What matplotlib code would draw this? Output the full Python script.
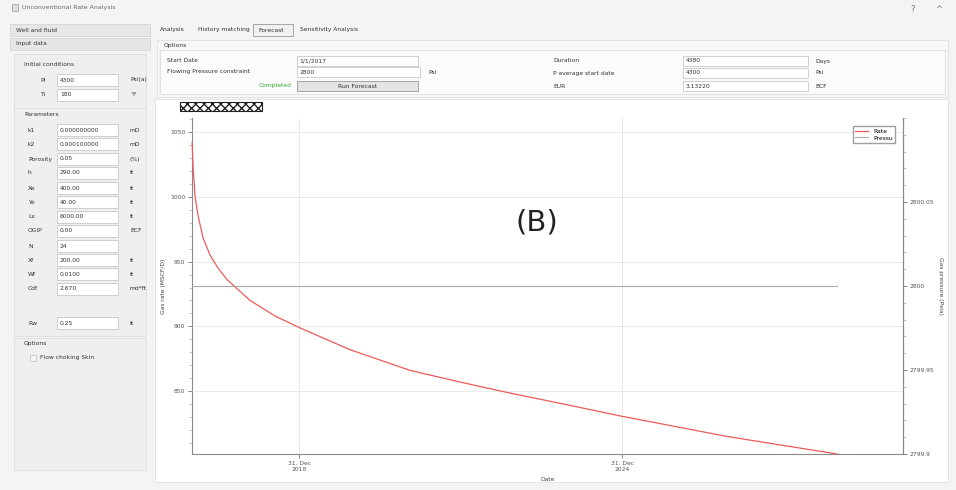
import datetime as dt
import matplotlib
matplotlib.use("Agg")
import matplotlib.pyplot as plt
import matplotlib.dates as mdates
from matplotlib.patches import Rectangle
from matplotlib.ticker import FixedLocator, MultipleLocator, FuncFormatter

# Forecast gas rate
rate_dates = ["2017-01-01", "2017-01-08", "2017-01-21", "2017-02-11", "2017-03-17",
              "2017-05-03", "2017-06-26", "2017-08-27", "2018-01-30", "2018-07-18",
              "2018-12-31", "2019-12-09", "2021-01-20", "2021-12-25", "2022-11-09",
              "2024-01-31", "2024-12-31", "2026-12-11", "2028-12-29"]
rate_values = [1042, 1022, 1000, 985, 968,
               955, 945, 936, 920, 908,
               899, 882, 866, 857, 849,
               838.5, 830.5, 815, 801.4]

# Flowing pressure constraint (flat)
pressure_dates = ["2017-01-01", "2028-12-29"]
pressure_values = [2800, 2800]

rate_ticks = [850, 900, 950, 1000, 1050]
pressure_ticks = [2799.9, 2799.95, 2800, 2800.05]
date_ticks = ["2018-12-31", "2024-12-31"]

W, H = 956, 490
FS = 4.3


def fx(x):
    return x / W


def fy(y):
    return 1 - y / H


def box(fig, x0, y0, x1, y1, fc="white", ec="#c8c8c8", lw=0.6, zorder=-5, **kw):
    fig.patches.append(Rectangle((fx(x0), fy(y1)), fx(x1) - fx(x0), fy(y0) - fy(y1),
                                 transform=fig.transFigure, facecolor=fc,
                                 edgecolor=ec, linewidth=lw, zorder=zorder, **kw))


def label(fig, x, y, s, size=FS, **kw):
    fig.text(fx(x), fy(y), s, fontsize=size, va="center", color=kw.pop("color", "#333333"), **kw)


def to_dates(lst):
    return [dt.datetime.strptime(d, "%Y-%m-%d") for d in lst]


fig = plt.figure(figsize=(W / 100, H / 100), dpi=100, facecolor="#f4f4f4")

# ---- window chrome ----
label(fig, 22, 8, "Unconventional Rate Analysis", size=4.5, color="#666666")
box(fig, 12, 4, 18, 11, fc="#dddddd", ec="#aaaaaa")
label(fig, 910, 10, "?", size=6, color="#777777")
label(fig, 935, 10, "^", size=6, color="#777777")

# ---- left input panel ----
box(fig, 10, 24, 150, 36, fc="#e6e6e6", ec="#d6d6d6")
label(fig, 16, 30, "Well and fluid")
box(fig, 10, 38, 150, 50, fc="#e6e6e6", ec="#d6d6d6")
label(fig, 16, 44, "Input data")
box(fig, 14, 54, 146, 112, fc="#efefef", ec="#dedede")
label(fig, 24, 64, "Initial conditions")
box(fig, 14, 108, 146, 336, fc="#efefef", ec="#dedede")
label(fig, 24, 114, "Parameters")

rows = [(80, "Pi", "4300", "Psi(a)"), (95, "Ti", "180", "\u00b0F"),
        (130, "k1", "0.000000000", "mD"), (144, "k2", "0.000100000", "mD"),
        (159, "Porosity", "0.05", "(%)"), (173, "h", "290.00", "ft"),
        (188, "Xe", "400.00", "ft"), (202, "Ye", "40.00", "ft"),
        (217, "Lx", "6000.00", "ft"), (231, "OGIP", "0.00", "BCF"),
        (246, "N", "24", ""), (260, "Xf", "200.00", "ft"),
        (274, "Wf", "0.0100", "ft"), (289, "Cdf", "2.670", "md*ft"),
        (323, "Rw", "0.25", "ft")]
for y, name, val, unit in rows:
    x_lab = 40 if name in ("Pi", "Ti") else 28
    label(fig, x_lab, y, name)
    box(fig, 57, y - 6, 118, y + 6, zorder=-4)
    label(fig, 60, y, val)
    label(fig, 130, y, unit)
box(fig, 14, 338, 146, 470, fc="#efefef", ec="#dedede")
label(fig, 24, 343, "Options")
box(fig, 30, 355, 36, 361, fc="#f6f6f6", ec="#cccccc", zorder=-4)
label(fig, 40, 358, "Flow choking Skin")

# ---- tabs and options ----
label(fig, 160, 30, "Analysis")
label(fig, 198, 30, "History matching")
box(fig, 253, 24, 293, 36, fc="#f0f0f0", ec="#999999")
label(fig, 258, 30, "Forecast")
label(fig, 300, 30, "Sensitivity Analysis")
box(fig, 157, 40, 948, 97, fc="#f7f7f7", ec="#e0e0e0")
label(fig, 164, 45, "Options")
box(fig, 160, 50, 945, 94, fc="#fbfbfb", ec="#dcdcdc", zorder=-4)
label(fig, 167, 61, "Start Date")
box(fig, 297, 56, 418, 66, zorder=-3)
label(fig, 299, 61, "1/1/2017")
label(fig, 167, 72, "Flowing Pressure constraint")
box(fig, 297, 67, 420, 77, zorder=-3)
label(fig, 299, 72, "2800")
label(fig, 428, 72, "Psi")
label(fig, 292, 86, "Completed", color="#33aa33", ha="right")
box(fig, 297, 81, 418, 91, fc="#e4e4e4", ec="#999999", zorder=-3)
label(fig, 357, 86, "Run Forecast", ha="center")
label(fig, 553, 61, "Duration")
box(fig, 683, 56, 808, 66, zorder=-3)
label(fig, 686, 61, "4380")
label(fig, 815, 61, "Days")
label(fig, 553, 73, "P average start date")
box(fig, 683, 68, 808, 78, zorder=-3)
label(fig, 686, 73, "4300")
label(fig, 815, 73, "Psi")
label(fig, 553, 86, "EUR")
box(fig, 683, 81, 808, 91, zorder=-3)
label(fig, 686, 86, "3.13220")
label(fig, 815, 86, "BCF")

# ---- chart panel ----
box(fig, 155, 99, 948, 482, fc="white", ec="#e2e2e2")
box(fig, 180, 102, 262, 111, fc="white", ec="#222222", lw=0.8, hatch="xxxx", zorder=-4)

ax = fig.add_axes([fx(192), fy(454), fx(903) - fx(192), fy(118) - fy(454)])
ax.set_facecolor("none")
ax2 = ax.twinx()

ax.plot(to_dates(rate_dates), rate_values, color="#ee5a5a", lw=0.9, label="Rate",
        zorder=3, clip_on=False)
ax2.plot(to_dates(pressure_dates), pressure_values, color="#a8a8a8", lw=0.8, label="Pressu")

ax.set_xlim(dt.datetime(2016, 12, 31), dt.datetime(2030, 3, 22))
ax.set_ylim(801.4, 1061)
ax2.set_ylim(2799.9, 2800.1)

ax.xaxis.set_major_locator(FixedLocator(mdates.date2num(to_dates(date_ticks))))
ax.xaxis.set_major_formatter(mdates.DateFormatter("%d. %b\n%Y"))
ax.yaxis.set_major_locator(FixedLocator(rate_ticks))
ax.yaxis.set_minor_locator(MultipleLocator(10))
ax2.yaxis.set_major_locator(FixedLocator(pressure_ticks))
ax2.yaxis.set_minor_locator(MultipleLocator(0.01))
ax2.yaxis.set_major_formatter(FuncFormatter(lambda v, p: f"{v:g}"))

ax.grid(True, which="major", color="#e6e6e6", lw=0.6)
for a in (ax, ax2):
    a.spines["top"].set_visible(False)
    for side in ("left", "right", "bottom"):
        a.spines[side].set_color("#8a8a8a")
        a.spines[side].set_linewidth(0.8)
    a.tick_params(labelsize=FS, colors="#555555", length=3, width=0.5, pad=2)
    a.tick_params(which="minor", length=2, width=0.4, colors="#999999")
ax2.spines["left"].set_visible(False)
ax2.spines["bottom"].set_visible(False)
ax.spines["left"].set_zorder(1)

ax.set_ylabel("Gas rate (MSCF/D)", fontsize=FS, color="#444444", labelpad=3)
ax2.set_ylabel("Gas pressure (Psia)", fontsize=FS, color="#444444", rotation=-90, labelpad=6)
ax.set_xlabel("Date", fontsize=FS, color="#444444", labelpad=4)

h1, l1 = ax.get_legend_handles_labels()
h2, l2 = ax2.get_legend_handles_labels()
ax2.legend(h1 + h2, l1 + l2, loc="upper right", bbox_to_anchor=(0.993, 0.985),
           fontsize=FS, frameon=True, fancybox=False, edgecolor="#888888",
           handlelength=2.2, borderpad=0.4, labelspacing=0.3)

fig.text(fx(537), fy(222), "(B)", fontsize=21, ha="center", va="center", color="#222222")

fig.savefig("out.png", dpi=100, facecolor=fig.get_facecolor())
